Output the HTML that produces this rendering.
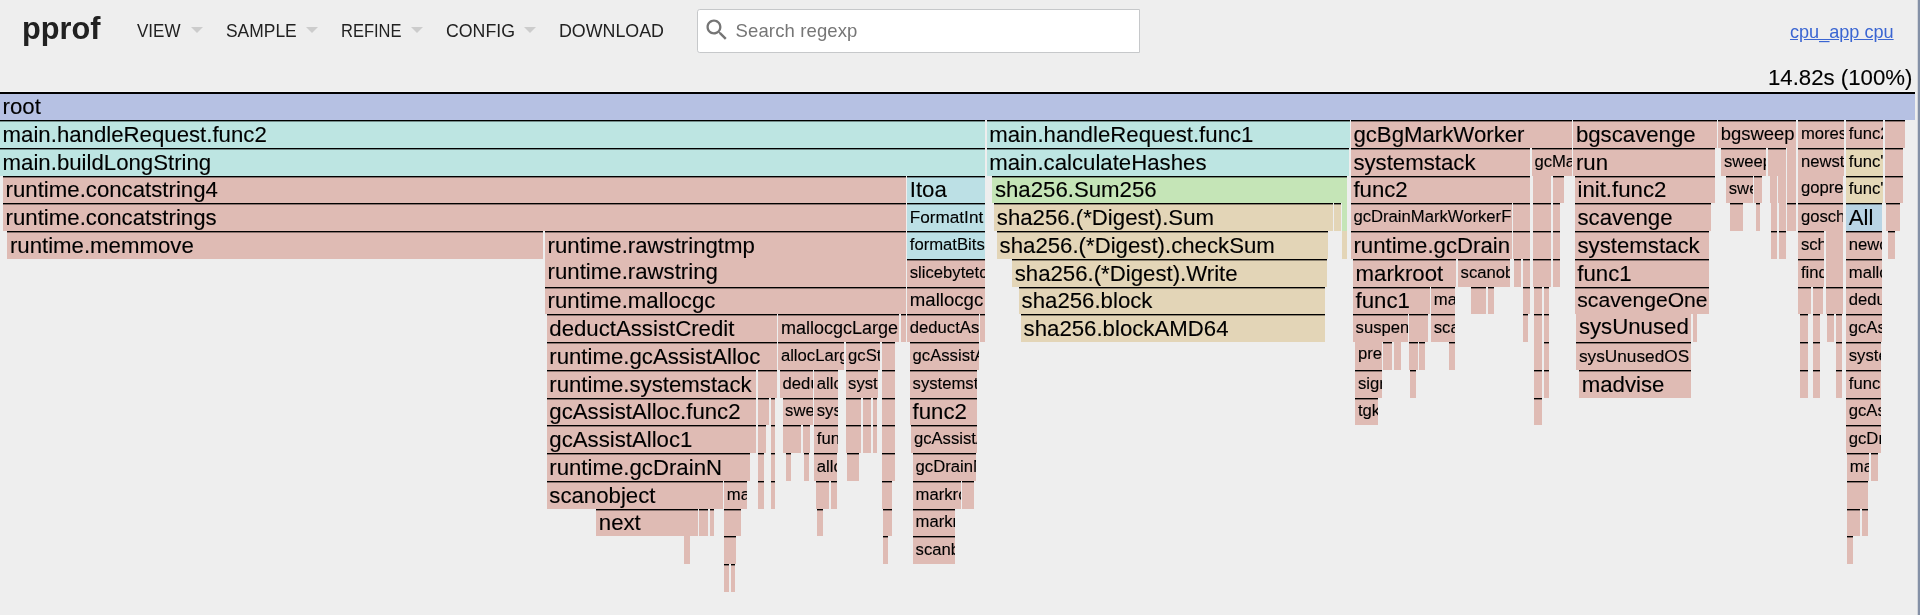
<!DOCTYPE html>
<html lang="en">
<head>
<meta charset="utf-8">
<title>cpu_app cpu</title>
<style>
html,body{margin:0;padding:0}
body{width:1920px;height:615px;overflow:hidden;position:relative;background:#eee;color:#212121;font-family:"Liberation Sans",sans-serif;}
.header{position:absolute;left:0;top:0;width:1920px;height:61px;will-change:transform}
.title{position:absolute;left:21.6px;top:8.9px;margin:0;font-size:31.5px;line-height:38px;font-weight:bold;color:#212121;white-space:nowrap;transform-origin:0 0;transform:scaleX(.975)}
.menu{position:absolute;top:20.3px;font-size:18px;line-height:22px;color:#212121;white-space:nowrap;text-transform:uppercase}
.menu span{display:inline-block;transform-origin:0 50%}
.arrow{position:absolute;top:27px;width:0;height:0;border-top:6.4px solid #ccc;border-left:6.3px solid transparent;border-right:6.3px solid transparent}
.search{position:absolute;left:697px;top:8.6px;width:442.6px;height:44px;box-sizing:border-box;background:#fff;border:1.4px solid #c6c8ca;border-radius:2.8px 0 0 2.8px}
.search svg{position:absolute;left:5.1px;top:6.7px;width:27.7px;height:27.7px}
.search .ph{position:absolute;left:37.6px;top:10.2px;font-size:18.5px;letter-spacing:.12px;line-height:22px;color:#767676;white-space:nowrap}
.desc{position:absolute;top:20.8px;right:26.4px;font-size:18.1px;line-height:22px;white-space:nowrap}
.desc a{color:#3a65d2;text-decoration:underline}
.details{-webkit-text-stroke:.12px #000;will-change:transform;position:absolute;top:64.9px;right:7.9px;font-size:22.21px;line-height:25.5px;color:#000;white-space:nowrap}
.edge1{position:absolute;left:1917px;top:0;width:1px;height:615px;background:#d4d6da}
.edge2{position:absolute;left:1918px;top:0;width:2px;height:615px;background:#8490a6}
.hl{position:absolute;left:0;top:91px;width:1915px;height:1px;background:#f4f4f4}
#chart{position:absolute;left:0;top:0;width:1920px;height:615px;color:#000;will-change:transform}
.b{position:absolute;height:27.76px;overflow:hidden;box-sizing:border-box;border-top:1px solid #000}
.b:before{content:"";position:absolute;left:0;right:0;top:0;height:1px;background:rgba(0,0,0,.39)}
.b.nb{border-top:0}
.b.nb:before{display:none}
.b.r0{border-top:2px solid #000}
.b.r0:before{display:none}
.t{-webkit-text-stroke:.12px #000;position:absolute;left:0;top:0.75px;padding-left:2.6px;line-height:24.98px;font-size:22.21px;white-space:nowrap;cursor:default}
.nb .t{top:0}
.r0 .t{top:-.45px}
</style>
</head>
<body>
<div class="header">
  <h1 class="title">pprof</h1>
  <div class="menu" style="left:137.3px"><span style="transform:scaleX(.945)">View</span></div><div class="arrow" style="left:191.2px"></div>
  <div class="menu" style="left:226.4px"><span style="transform:scaleX(.968)">Sample</span></div><div class="arrow" style="left:306.4px"></div>
  <div class="menu" style="left:341.3px"><span style="transform:scaleX(.915)">Refine</span></div><div class="arrow" style="left:411px"></div>
  <div class="menu" style="left:446px"><span style="transform:scaleX(.985)">Config</span></div><div class="arrow" style="left:524.3px"></div>
  <div class="menu" style="left:558.7px"><span style="transform:scaleX(.99)">Download</span></div>
  <div class="search">
    <svg viewBox="0 0 24 24"><path fill="#757575" d="M15.5 14h-.79l-.28-.27C15.41 12.59 16 11.11 16 9.5 16 5.91 13.09 3 9.5 3S3 5.91 3 9.5 5.91 16 9.5 16c1.61 0 3.09-.59 4.23-1.57l.27.28v.79l5 4.99L20.49 19l-4.99-5zm-6 0C7.01 14 5 11.99 5 9.5S7.010 5 9.500 5 14 7.010 14 9.500 11.990 14 9.500 14z"/></svg>
    <div class="ph">Search regexp</div>
  </div>
  <div class="desc"><a>cpu_app cpu</a></div>
</div>
<div class="details">14.82s (100%)</div>
<div class="hl"></div>
<div id="chart">
<div class="b r0" style="left:0px;top:92.3px;width:1914.6px;background:#b6c1e3"><div class="t">root</div></div>
<div class="b" style="left:0px;top:120.06px;width:984.8px;background:#bde5e2"><div class="t">main.handleRequest.func2</div></div>
<div class="b" style="left:986.7px;top:120.06px;width:362.9px;background:#bde5e2"><div class="t">main.handleRequest.func1</div></div>
<div class="b" style="left:1350.8px;top:120.06px;width:220.9px;background:#dfbbb4"><div class="t">gcBgMarkWorker</div></div>
<div class="b" style="left:1573.3px;top:120.06px;width:143.5px;background:#dfbbb4"><div class="t">bgscavenge</div></div>
<div class="b" style="left:1718.2px;top:120.06px;width:78px;background:#dfbbb4"><div class="t" style="font-size:18.45px">bgsweep</div></div>
<div class="b" style="left:1798.3px;top:120.06px;width:46.2px;background:#dfbbb4"><div class="t" style="font-size:16.66px">morestack</div></div>
<div class="b" style="left:1846.2px;top:120.06px;width:36.7px;background:#dfbbb4"><div class="t" style="font-size:16.66px">func2</div></div>
<div class="b" style="left:1884.8px;top:120.06px;width:20.6px;background:#dfbbb4"></div>
<div class="b" style="left:0px;top:147.82px;width:984.8px;background:#bde5e2"><div class="t">main.buildLongString</div></div>
<div class="b" style="left:986.7px;top:147.82px;width:362px;background:#bde5e2"><div class="t">main.calculateHashes</div></div>
<div class="b" style="left:1350.8px;top:147.82px;width:179.1px;background:#dfbbb4"><div class="t">systemstack</div></div>
<div class="b" style="left:1531.8px;top:147.82px;width:39.9px;background:#dfbbb4"><div class="t" style="font-size:16.66px">gcMarkDone</div></div>
<div class="b" style="left:1573.3px;top:147.82px;width:142.2px;background:#dfbbb4"><div class="t">run</div></div>
<div class="b" style="left:1721.3px;top:147.82px;width:44.8px;background:#dfbbb4"><div class="t" style="font-size:16.66px">sweepone</div></div>
<div class="b" style="left:1767.5px;top:147.82px;width:18.4px;background:#dfbbb4"></div>
<div class="b nb" style="left:1787.2px;top:147.82px;width:9px;background:#dfbbb4"></div>
<div class="b" style="left:1798.3px;top:147.82px;width:45.7px;background:#dfbbb4"><div class="t" style="font-size:16.66px">newstack</div></div>
<div class="b" style="left:1846.2px;top:147.82px;width:36.7px;background:#e4d8b7"><div class="t" style="font-size:16.66px">func&#x27;</div></div>
<div class="b" style="left:1884.8px;top:147.82px;width:18.4px;background:#dfbbb4"></div>
<div class="b" style="left:3px;top:175.58px;width:902.8px;background:#dfbbb4"><div class="t">runtime.concatstring4</div></div>
<div class="b" style="left:907.2px;top:175.58px;width:77.6px;background:#bce0e5"><div class="t">Itoa</div></div>
<div class="b" style="left:992.3px;top:175.58px;width:354.5px;background:#c5e5b7"><div class="t">sha256.Sum256</div></div>
<div class="b" style="left:1350.8px;top:175.58px;width:179.1px;background:#dfbbb4"><div class="t">func2</div></div>
<div class="b nb" style="left:1533.2px;top:175.58px;width:17.8px;background:#dfbbb4"></div>
<div class="b" style="left:1552.6px;top:175.58px;width:11.5px;background:#dfbbb4"></div>
<div class="b" style="left:1574.9px;top:175.58px;width:140.1px;background:#dfbbb4"><div class="t">init.func2</div></div>
<div class="b" style="left:1726.2px;top:175.58px;width:26.8px;background:#dfbbb4"><div class="t" style="font-size:16.66px">sweep</div></div>
<div class="b" style="left:1754.2px;top:175.58px;width:7.7px;background:#dfbbb4"></div>
<div class="b nb" style="left:1769.8px;top:175.58px;width:7.1px;background:#dfbbb4"></div>
<div class="b nb" style="left:1778.2px;top:175.58px;width:7.7px;background:#dfbbb4"></div>
<div class="b nb" style="left:1787.2px;top:175.58px;width:8.8px;background:#dfbbb4"></div>
<div class="b nb" style="left:1798.3px;top:175.58px;width:44.8px;background:#dfbbb4"><div class="t" style="font-size:16.66px">gopreempt_m</div></div>
<div class="b" style="left:1846.2px;top:175.58px;width:36.7px;background:#e4d8b7"><div class="t" style="font-size:16.66px">func&#x27;</div></div>
<div class="b" style="left:1884.8px;top:175.58px;width:18.2px;background:#dfbbb4"></div>
<div class="b" style="left:3px;top:203.34px;width:902.8px;background:#dfbbb4"><div class="t">runtime.concatstrings</div></div>
<div class="b" style="left:907.2px;top:203.34px;width:77.6px;background:#bce0e5"><div class="t" style="font-size:17.16px">FormatInt</div></div>
<div class="b" style="left:994.2px;top:203.34px;width:338.4px;background:#e3d5b7"><div class="t">sha256.(*Digest).Sum</div></div>
<div class="b" style="left:1334px;top:203.34px;width:7.1px;background:#e3d5b7"></div>
<div class="b nb" style="left:1342px;top:203.34px;width:4.8px;background:#c5e5b7"></div>
<div class="b" style="left:1350.8px;top:203.34px;width:161.3px;background:#dfbbb4"><div class="t" style="font-size:16.66px">gcDrainMarkWorkerFractional</div></div>
<div class="b" style="left:1513.3px;top:203.34px;width:16.6px;background:#dfbbb4"></div>
<div class="b" style="left:1533.2px;top:203.34px;width:17.8px;background:#dfbbb4"></div>
<div class="b" style="left:1552.6px;top:203.34px;width:7.4px;background:#dfbbb4"></div>
<div class="b" style="left:1574.9px;top:203.34px;width:135.9px;background:#dfbbb4"><div class="t">scavenge</div></div>
<div class="b" style="left:1730px;top:203.34px;width:12.5px;background:#dfbbb4"></div>
<div class="b" style="left:1755.8px;top:203.34px;width:4.6px;background:#dfbbb4"></div>
<div class="b nb" style="left:1771px;top:203.34px;width:5.9px;background:#dfbbb4"></div>
<div class="b nb" style="left:1778.5px;top:203.34px;width:7.3px;background:#dfbbb4"></div>
<div class="b" style="left:1787.2px;top:203.34px;width:8.8px;background:#dfbbb4"></div>
<div class="b" style="left:1798.3px;top:203.34px;width:44.8px;background:#dfbbb4"><div class="t" style="font-size:16.66px">goschedImpl</div></div>
<div class="b" style="left:1846.2px;top:203.34px;width:35.9px;background:#b9d4e4"><div class="t">All</div></div>
<div class="b" style="left:1886px;top:203.34px;width:14px;background:#dfbbb4"></div>
<div class="b" style="left:7.3px;top:231.1px;width:536px;background:#dfbbb4"><div class="t">runtime.memmove</div></div>
<div class="b" style="left:545px;top:231.1px;width:360.8px;background:#dfbbb4"><div class="t">runtime.rawstringtmp</div></div>
<div class="b" style="left:907.2px;top:231.1px;width:77.6px;background:#bce0e5"><div class="t" style="font-size:16.66px">formatBits</div></div>
<div class="b" style="left:997px;top:231.1px;width:330.5px;background:#e3d5b7"><div class="t">sha256.(*Digest).checkSum</div></div>
<div class="b nb" style="left:1342px;top:231.1px;width:4.8px;background:#e3d5b7"></div>
<div class="b" style="left:1350.8px;top:231.1px;width:161.3px;background:#dfbbb4"><div class="t">runtime.gcDrain</div></div>
<div class="b" style="left:1513.3px;top:231.1px;width:16.6px;background:#dfbbb4"></div>
<div class="b" style="left:1533.2px;top:231.1px;width:17.8px;background:#dfbbb4"></div>
<div class="b" style="left:1552.6px;top:231.1px;width:7.4px;background:#dfbbb4"></div>
<div class="b" style="left:1574.9px;top:231.1px;width:134.3px;background:#dfbbb4"><div class="t">systemstack</div></div>
<div class="b" style="left:1771px;top:231.1px;width:5.9px;background:#dfbbb4"></div>
<div class="b" style="left:1778.5px;top:231.1px;width:7.3px;background:#dfbbb4"></div>
<div class="b" style="left:1798.3px;top:231.1px;width:25.5px;background:#dfbbb4"><div class="t" style="font-size:16.66px">schedule</div></div>
<div class="b nb" style="left:1825.7px;top:231.1px;width:17.4px;background:#dfbbb4"></div>
<div class="b" style="left:1846.2px;top:231.1px;width:35.9px;background:#dfbbb4"><div class="t" style="font-size:16.66px">newobject</div></div>
<div class="b" style="left:1887.5px;top:231.1px;width:7.2px;background:#dfbbb4"></div>
<div class="b nb" style="left:545px;top:258.86px;width:360.8px;background:#dfbbb4"><div class="t">runtime.rawstring</div></div>
<div class="b" style="left:907.2px;top:258.86px;width:77.6px;background:#dfbbb4"><div class="t" style="font-size:16.66px">slicebytetostring</div></div>
<div class="b" style="left:1012.1px;top:258.86px;width:315.4px;background:#e3d5b7"><div class="t">sha256.(*Digest).Write</div></div>
<div class="b" style="left:1353px;top:258.86px;width:103.2px;background:#dfbbb4"><div class="t">markroot</div></div>
<div class="b" style="left:1458px;top:258.86px;width:52.4px;background:#dfbbb4"><div class="t" style="font-size:16.66px">scanobject</div></div>
<div class="b" style="left:1513.6px;top:258.86px;width:7.2px;background:#dfbbb4"></div>
<div class="b" style="left:1522.5px;top:258.86px;width:7.3px;background:#dfbbb4"></div>
<div class="b" style="left:1533.3px;top:258.86px;width:17.7px;background:#dfbbb4"></div>
<div class="b" style="left:1552.8px;top:258.86px;width:7.2px;background:#dfbbb4"></div>
<div class="b" style="left:1574.7px;top:258.86px;width:134.5px;background:#dfbbb4"><div class="t">func1</div></div>
<div class="b" style="left:1798.3px;top:258.86px;width:25.5px;background:#dfbbb4"><div class="t" style="font-size:16.66px">findRunnable</div></div>
<div class="b nb" style="left:1826.2px;top:258.86px;width:16.8px;background:#dfbbb4"></div>
<div class="b" style="left:1846.2px;top:258.86px;width:35.9px;background:#dfbbb4"><div class="t" style="font-size:16.66px">mallocgc</div></div>
<div class="b" style="left:545px;top:286.62px;width:360.8px;background:#dfbbb4"><div class="t">runtime.mallocgc</div></div>
<div class="b" style="left:907.2px;top:286.62px;width:77.6px;background:#dfbbb4"><div class="t" style="font-size:18.61px">mallocgc</div></div>
<div class="b" style="left:1019px;top:286.62px;width:306px;background:#e3d5b7"><div class="t">sha256.block</div></div>
<div class="b" style="left:1353px;top:286.62px;width:76.5px;background:#dfbbb4"><div class="t">func1</div></div>
<div class="b" style="left:1431.2px;top:286.62px;width:23.5px;background:#dfbbb4"><div class="t" style="font-size:16.66px">markrootBlock</div></div>
<div class="b" style="left:1471.2px;top:286.62px;width:15.1px;background:#dfbbb4"></div>
<div class="b" style="left:1488px;top:286.62px;width:5.8px;background:#dfbbb4"></div>
<div class="b" style="left:1522.8px;top:286.62px;width:6.9px;background:#dfbbb4"></div>
<div class="b" style="left:1534.2px;top:286.62px;width:7.8px;background:#dfbbb4"></div>
<div class="b" style="left:1543.7px;top:286.62px;width:5.5px;background:#dfbbb4"></div>
<div class="b" style="left:1574.7px;top:286.62px;width:134.5px;background:#dfbbb4"><div class="t" style="font-size:21.12px">scavengeOne</div></div>
<div class="b" style="left:1798.3px;top:286.62px;width:12.5px;background:#dfbbb4"></div>
<div class="b" style="left:1812.5px;top:286.62px;width:10.5px;background:#dfbbb4"></div>
<div class="b" style="left:1826.2px;top:286.62px;width:16.8px;background:#dfbbb4"></div>
<div class="b" style="left:1846.2px;top:286.62px;width:35.9px;background:#dfbbb4"><div class="t" style="font-size:16.66px">deductAssistCredit</div></div>
<div class="b" style="left:546.7px;top:314.38px;width:230.2px;background:#dfbbb4"><div class="t">deductAssistCredit</div></div>
<div class="b" style="left:778.3px;top:314.38px;width:121.2px;background:#dfbbb4"><div class="t" style="font-size:18px">mallocgcLarge</div></div>
<div class="b" style="left:901.2px;top:314.38px;width:4.6px;background:#dfbbb4"></div>
<div class="b" style="left:907.2px;top:314.38px;width:71.5px;background:#dfbbb4"><div class="t" style="font-size:16.66px">deductAssistCredit</div></div>
<div class="b" style="left:980.3px;top:314.38px;width:4.7px;background:#dfbbb4"></div>
<div class="b" style="left:1021px;top:314.38px;width:304px;background:#e3d5b7"><div class="t">sha256.blockAMD64</div></div>
<div class="b" style="left:1353px;top:314.38px;width:54.5px;background:#dfbbb4"><div class="t" style="font-size:16.66px">suspendG</div></div>
<div class="b" style="left:1409.2px;top:314.38px;width:18.8px;background:#dfbbb4"></div>
<div class="b" style="left:1431.2px;top:314.38px;width:23.5px;background:#dfbbb4"><div class="t" style="font-size:16.66px">scanblock</div></div>
<div class="b" style="left:1522.8px;top:314.38px;width:5.2px;background:#dfbbb4"></div>
<div class="b" style="left:1534.2px;top:314.38px;width:7.8px;background:#dfbbb4"></div>
<div class="b" style="left:1543.7px;top:314.38px;width:5.5px;background:#dfbbb4"></div>
<div class="b nb" style="left:1576.3px;top:314.38px;width:115px;background:#dfbbb4"><div class="t">sysUnused</div></div>
<div class="b nb" style="left:1692.5px;top:314.38px;width:4.2px;background:#dfbbb4"></div>
<div class="b" style="left:1799.5px;top:314.38px;width:8.5px;background:#dfbbb4"></div>
<div class="b" style="left:1812.8px;top:314.38px;width:7.2px;background:#dfbbb4"></div>
<div class="b" style="left:1827px;top:314.38px;width:6.8px;background:#dfbbb4"></div>
<div class="b" style="left:1835.5px;top:314.38px;width:6.5px;background:#dfbbb4"></div>
<div class="b" style="left:1846.2px;top:314.38px;width:35.9px;background:#dfbbb4"><div class="t" style="font-size:16.66px">gcAssistAlloc</div></div>
<div class="b" style="left:546.7px;top:342.14px;width:230.2px;background:#dfbbb4"><div class="t">runtime.gcAssistAlloc</div></div>
<div class="b" style="left:778.3px;top:342.14px;width:65.4px;background:#dfbbb4"><div class="t" style="font-size:16.66px">allocLarge</div></div>
<div class="b" style="left:845.5px;top:342.14px;width:34.5px;background:#dfbbb4"><div class="t" style="font-size:16.66px">gcStart</div></div>
<div class="b" style="left:881.7px;top:342.14px;width:13.6px;background:#dfbbb4"></div>
<div class="b" style="left:910px;top:342.14px;width:68.7px;background:#dfbbb4"><div class="t" style="font-size:16.66px">gcAssistAlloc</div></div>
<div class="b nb" style="left:1355.3px;top:342.14px;width:26.4px;background:#dfbbb4"><div class="t" style="font-size:16.66px">preemptM</div></div>
<div class="b" style="left:1383.3px;top:342.14px;width:8.7px;background:#dfbbb4"></div>
<div class="b nb" style="left:1393.7px;top:342.14px;width:7.1px;background:#dfbbb4"></div>
<div class="b" style="left:1409.2px;top:342.14px;width:8.5px;background:#dfbbb4"></div>
<div class="b" style="left:1419.2px;top:342.14px;width:5.8px;background:#dfbbb4"></div>
<div class="b" style="left:1449.2px;top:342.14px;width:5.5px;background:#dfbbb4"></div>
<div class="b nb" style="left:1534.2px;top:342.14px;width:7.8px;background:#dfbbb4"></div>
<div class="b" style="left:1543.7px;top:342.14px;width:5.5px;background:#dfbbb4"></div>
<div class="b" style="left:1576.3px;top:342.14px;width:114.5px;background:#dfbbb4"><div class="t" style="font-size:17.26px">sysUnusedOS</div></div>
<div class="b" style="left:1799.5px;top:342.14px;width:8.5px;background:#dfbbb4"></div>
<div class="b" style="left:1812.8px;top:342.14px;width:7.2px;background:#dfbbb4"></div>
<div class="b" style="left:1835.5px;top:342.14px;width:6.5px;background:#dfbbb4"></div>
<div class="b" style="left:1846.2px;top:342.14px;width:34.6px;background:#dfbbb4"><div class="t" style="font-size:16.66px">systemstack</div></div>
<div class="b" style="left:546.7px;top:369.9px;width:209.1px;background:#dfbbb4"><div class="t">runtime.systemstack</div></div>
<div class="b" style="left:757.5px;top:369.9px;width:19.4px;background:#dfbbb4"></div>
<div class="b" style="left:780px;top:369.9px;width:32.7px;background:#dfbbb4"><div class="t" style="font-size:16.66px">deductSweepCredit</div></div>
<div class="b" style="left:814.2px;top:369.9px;width:24px;background:#dfbbb4"><div class="t" style="font-size:16.66px">alloc</div></div>
<div class="b" style="left:845.5px;top:369.9px;width:32px;background:#dfbbb4"><div class="t" style="font-size:16.66px">systemstack</div></div>
<div class="b" style="left:881.7px;top:369.9px;width:13.6px;background:#dfbbb4"></div>
<div class="b" style="left:910px;top:369.9px;width:67px;background:#dfbbb4"><div class="t" style="font-size:16.66px">systemstack</div></div>
<div class="b" style="left:1355.3px;top:369.9px;width:26.4px;background:#dfbbb4"><div class="t" style="font-size:16.66px">signalM</div></div>
<div class="b" style="left:1410.3px;top:369.9px;width:6px;background:#dfbbb4"></div>
<div class="b" style="left:1534.2px;top:369.9px;width:7.8px;background:#dfbbb4"></div>
<div class="b" style="left:1543.7px;top:369.9px;width:5.5px;background:#dfbbb4"></div>
<div class="b" style="left:1579.2px;top:369.9px;width:111.6px;background:#dfbbb4"><div class="t">madvise</div></div>
<div class="b" style="left:1799.5px;top:369.9px;width:8.5px;background:#dfbbb4"></div>
<div class="b" style="left:1812.8px;top:369.9px;width:7.2px;background:#dfbbb4"></div>
<div class="b" style="left:1835.5px;top:369.9px;width:6.5px;background:#dfbbb4"></div>
<div class="b" style="left:1846.2px;top:369.9px;width:34.6px;background:#dfbbb4"><div class="t" style="font-size:16.66px">func2</div></div>
<div class="b" style="left:546.7px;top:397.66px;width:209.1px;background:#dfbbb4"><div class="t">gcAssistAlloc.func2</div></div>
<div class="b" style="left:757.5px;top:397.66px;width:11.5px;background:#dfbbb4"></div>
<div class="b" style="left:770.8px;top:397.66px;width:4.5px;background:#dfbbb4"></div>
<div class="b" style="left:782.5px;top:397.66px;width:30.2px;background:#dfbbb4"><div class="t" style="font-size:16.66px">sweepone</div></div>
<div class="b" style="left:814.2px;top:397.66px;width:24px;background:#dfbbb4"><div class="t" style="font-size:16.66px">systemstack</div></div>
<div class="b" style="left:845.5px;top:397.66px;width:15.3px;background:#dfbbb4"></div>
<div class="b" style="left:862.5px;top:397.66px;width:8.3px;background:#dfbbb4"></div>
<div class="b" style="left:872.5px;top:397.66px;width:4.5px;background:#dfbbb4"></div>
<div class="b" style="left:881.7px;top:397.66px;width:13.5px;background:#dfbbb4"></div>
<div class="b" style="left:910px;top:397.66px;width:67px;background:#dfbbb4"><div class="t">func2</div></div>
<div class="b" style="left:1355.3px;top:397.66px;width:22.7px;background:#dfbbb4"><div class="t" style="font-size:16.66px">tgkill</div></div>
<div class="b" style="left:1534.2px;top:397.66px;width:7.8px;background:#dfbbb4"></div>
<div class="b" style="left:1846.2px;top:397.66px;width:34.6px;background:#dfbbb4"><div class="t" style="font-size:16.66px">gcAssistAlloc1</div></div>
<div class="b" style="left:546.7px;top:425.42px;width:209.1px;background:#dfbbb4"><div class="t">gcAssistAlloc1</div></div>
<div class="b" style="left:757.5px;top:425.42px;width:8.8px;background:#dfbbb4"></div>
<div class="b" style="left:770.8px;top:425.42px;width:4.5px;background:#dfbbb4"></div>
<div class="b" style="left:783px;top:425.42px;width:17.8px;background:#dfbbb4"></div>
<div class="b" style="left:802.9px;top:425.42px;width:7.1px;background:#dfbbb4"></div>
<div class="b" style="left:814.2px;top:425.42px;width:24px;background:#dfbbb4"><div class="t" style="font-size:16.66px">func1</div></div>
<div class="b" style="left:846.3px;top:425.42px;width:14.5px;background:#dfbbb4"></div>
<div class="b" style="left:862.5px;top:425.42px;width:8.3px;background:#dfbbb4"></div>
<div class="b" style="left:872.5px;top:425.42px;width:4.5px;background:#dfbbb4"></div>
<div class="b" style="left:881.7px;top:425.42px;width:13.5px;background:#dfbbb4"></div>
<div class="b" style="left:911.3px;top:425.42px;width:65.7px;background:#dfbbb4"><div class="t" style="font-size:16.66px">gcAssistAlloc1</div></div>
<div class="b" style="left:1846.2px;top:425.42px;width:34.6px;background:#dfbbb4"><div class="t" style="font-size:16.66px">gcDrainN</div></div>
<div class="b" style="left:546.7px;top:453.18px;width:203.3px;background:#dfbbb4"><div class="t">runtime.gcDrainN</div></div>
<div class="b" style="left:757.5px;top:453.18px;width:6.5px;background:#dfbbb4"></div>
<div class="b" style="left:770.8px;top:453.18px;width:4.5px;background:#dfbbb4"></div>
<div class="b" style="left:786px;top:453.18px;width:4.8px;background:#dfbbb4"></div>
<div class="b" style="left:804.2px;top:453.18px;width:5px;background:#dfbbb4"></div>
<div class="b" style="left:814.2px;top:453.18px;width:22.5px;background:#dfbbb4"><div class="t" style="font-size:16.66px">allocSpan</div></div>
<div class="b" style="left:847.2px;top:453.18px;width:12px;background:#dfbbb4"></div>
<div class="b" style="left:881.7px;top:453.18px;width:13.5px;background:#dfbbb4"></div>
<div class="b" style="left:913px;top:453.18px;width:62.8px;background:#dfbbb4"><div class="t" style="font-size:16.66px">gcDrainN</div></div>
<div class="b" style="left:1847.2px;top:453.18px;width:22px;background:#dfbbb4"><div class="t" style="font-size:16.66px">markroot</div></div>
<div class="b" style="left:1871.2px;top:453.18px;width:7.1px;background:#dfbbb4"></div>
<div class="b" style="left:546.7px;top:480.94px;width:176.1px;background:#dfbbb4"><div class="t">scanobject</div></div>
<div class="b" style="left:724.2px;top:480.94px;width:23px;background:#dfbbb4"><div class="t" style="font-size:16.66px">markroot</div></div>
<div class="b" style="left:757.5px;top:480.94px;width:6.3px;background:#dfbbb4"></div>
<div class="b" style="left:770.8px;top:480.94px;width:4.5px;background:#dfbbb4"></div>
<div class="b" style="left:816px;top:480.94px;width:13.2px;background:#dfbbb4"></div>
<div class="b" style="left:831px;top:480.94px;width:5.7px;background:#dfbbb4"></div>
<div class="b" style="left:881.7px;top:480.94px;width:10px;background:#dfbbb4"></div>
<div class="b" style="left:913px;top:480.94px;width:47.6px;background:#dfbbb4"><div class="t" style="font-size:16.66px">markroot</div></div>
<div class="b" style="left:962px;top:480.94px;width:12.2px;background:#dfbbb4"></div>
<div class="b" style="left:1847.2px;top:480.94px;width:20.8px;background:#dfbbb4"></div>
<div class="b" style="left:596.2px;top:508.7px;width:101.6px;background:#dfbbb4"><div class="t">next</div></div>
<div class="b" style="left:699.2px;top:508.7px;width:8.8px;background:#dfbbb4"></div>
<div class="b" style="left:709.6px;top:508.7px;width:4.9px;background:#dfbbb4"></div>
<div class="b" style="left:724.2px;top:508.7px;width:16.6px;background:#dfbbb4"></div>
<div class="b" style="left:817.2px;top:508.7px;width:6.1px;background:#dfbbb4"></div>
<div class="b" style="left:883px;top:508.7px;width:8.7px;background:#dfbbb4"></div>
<div class="b" style="left:913px;top:508.7px;width:41.7px;background:#dfbbb4"><div class="t" style="font-size:16.66px">markrootBlock</div></div>
<div class="b" style="left:1847.2px;top:508.7px;width:12.5px;background:#dfbbb4"></div>
<div class="b" style="left:1862px;top:508.7px;width:6px;background:#dfbbb4"></div>
<div class="b nb" style="left:684.2px;top:536.46px;width:5.5px;background:#dfbbb4"></div>
<div class="b" style="left:724.2px;top:536.46px;width:12.3px;background:#dfbbb4"></div>
<div class="b" style="left:883px;top:536.46px;width:4.8px;background:#dfbbb4"></div>
<div class="b" style="left:913px;top:536.46px;width:41.7px;background:#dfbbb4"><div class="t" style="font-size:16.66px">scanblock</div></div>
<div class="b" style="left:1847.2px;top:536.46px;width:5.6px;background:#dfbbb4"></div>
<div class="b" style="left:724.2px;top:564.22px;width:4.5px;background:#dfbbb4"></div>
<div class="b" style="left:730.5px;top:564.22px;width:4.3px;background:#dfbbb4"></div>
</div>
<div class="edge1"></div><div class="edge2"></div>
</body>
</html>
